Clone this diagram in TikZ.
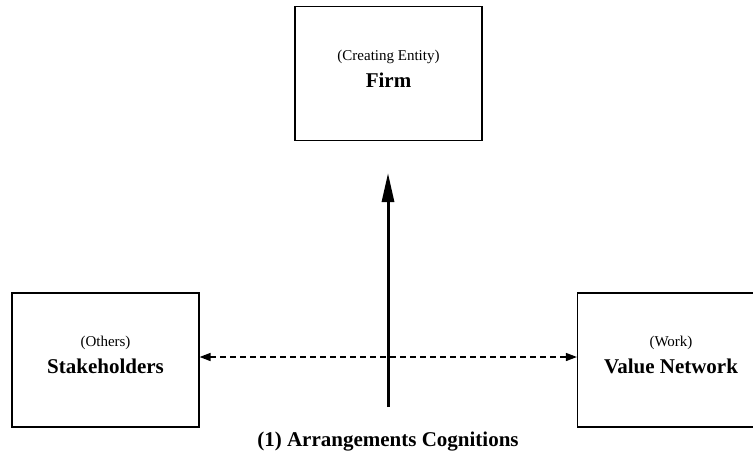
\documentclass[tikz,border=0pt]{standalone}
\usepackage{fontspec}
\setmainfont{Liberation Serif}
\usetikzlibrary{arrows.meta}
\begin{document}
\begin{tikzpicture}[x=1pt,y=-1pt,
  box/.style={draw=black, line width=1.2pt, minimum width=187pt, minimum height=134pt, inner sep=0pt},
  sublabel/.style={font=\fontsize{15}{17}\selectfont, inner sep=0pt},
  mainlabel/.style={font=\fontsize{21}{24}\selectfont\bfseries, inner sep=0pt},
  mainarrow/.style={line width=3pt, -{Triangle[length=29pt, width=12pt]}},
  linkarrow/.style={line width=1.5pt, dash pattern=on 6pt off 4pt,
    {Triangle[length=11pt, width=8pt]}-{Triangle[length=11pt, width=8pt]}}]
  \useasboundingbox (0,0) rectangle (753,461);

  % the three boxes
  \node[box] (firm)  at (388.5,73.5) {};
  \node[box] (stake) at (105.5,360)  {};
  \node[box] (value) at (671,360)    {};

  % box texts
  \node[sublabel]  (firmsub)   at (388.5,57) {(Creating Entity)};
  \node[mainlabel] (firmname)  at (388.5,80) {Firm};
  \node[sublabel]  (stakesub)  at (105.5,343) {(Others)};
  \node[mainlabel] (stakename) at (105.5,366) {Stakeholders};
  \node[sublabel]  (valuesub)  at (671,343) {(Work)};
  \node[mainlabel] (valuename) at (671,366) {Value Network};

  % arrows
  \coordinate (upstart) at (388,407);
  \coordinate (uptip)   at (388,173);
  \coordinate (linky)   at (388,357);
  \draw[linkarrow] (stake.east |- linky) -- (value.west |- linky);
  \draw[mainarrow] (upstart) -- (uptip);

  % caption
  \node[mainlabel] (caption) at (388,442) {(1) Arrangements Cognitions};
\end{tikzpicture}
\end{document}
